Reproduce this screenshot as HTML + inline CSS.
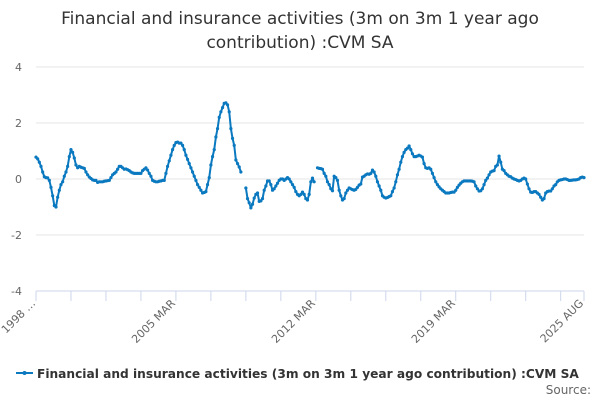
<!DOCTYPE html>
<html><head><meta charset="utf-8"><style>
html,body{margin:0;padding:0;background:#fff;}
body{width:600px;height:400px;overflow:hidden;font-family:"DejaVu Sans","Liberation Sans",sans-serif;}
</style></head><body>
<svg id="chart" width="600" height="400" xmlns="http://www.w3.org/2000/svg" font-family="DejaVu Sans, Liberation Sans, sans-serif">
<text x="300" y="24" text-anchor="middle" font-size="17" fill="#333">Financial and insurance activities (3m on 3m 1 year ago</text>
<text x="300" y="48" text-anchor="middle" font-size="17" fill="#333">contribution) :CVM SA</text>
<g id="grid"></g>
<g id="xaxis"></g>
<g id="series"></g>
<g>
<line x1="16" y1="373" x2="33" y2="373" stroke="#0b79bf" stroke-width="2"/>
<circle cx="24.5" cy="373" r="2" fill="#0b79bf"/>
<text x="37" y="378" font-size="12.2" font-weight="bold" fill="#333">Financial and insurance activities (3m on 3m 1 year ago contribution) :CVM SA</text>
</g>
<text x="591" y="394" text-anchor="end" font-size="12" fill="#666">Source:</text>
</svg>
<script>
const yTicks=[4,2,0,-2,-4];
const xLabelIdx=[0,84,168,252,329];
const xLabels=["1998 …","2005 MAR","2012 MAR","2019 MAR","2025 AUG"];
const values=[0.78,0.72,0.6,0.45,0.25,0.08,0.05,0.04,-0.05,-0.3,
-0.6,-0.95,-1.0,-0.65,-0.4,-0.2,-0.1,0.1,0.25,0.45,
0.8,1.05,0.95,0.75,0.5,0.4,0.45,0.42,0.4,0.38,
0.25,0.15,0.07,0.02,-0.03,-0.05,-0.05,-0.12,-0.1,-0.1,
-0.1,-0.08,-0.07,-0.06,-0.05,0.05,0.15,0.2,0.25,0.35,
0.45,0.45,0.4,0.35,0.36,0.33,0.3,0.25,0.22,0.2,
0.2,0.2,0.2,0.2,0.3,0.35,0.4,0.32,0.2,0.1,
-0.05,-0.08,-0.1,-0.1,-0.08,-0.07,-0.05,-0.05,0.2,0.45,
0.65,0.85,1.05,1.2,1.3,1.32,1.28,1.28,1.2,1.05,
0.85,0.7,0.55,0.4,0.25,0.1,-0.05,-0.2,-0.3,-0.4,
-0.5,-0.48,-0.45,-0.2,0.05,0.5,0.8,1.05,1.5,1.8,
2.2,2.4,2.55,2.7,2.72,2.65,2.4,1.8,1.45,1.2,
0.68,0.55,0.43,0.25,null,null,-0.32,-0.7,-0.85,-1.03,
-0.9,-0.68,-0.55,-0.5,-0.8,-0.78,-0.7,-0.4,-0.25,-0.07,
-0.07,-0.2,-0.4,-0.35,-0.25,-0.15,-0.05,0,0,-0.05,
0,0.05,0,-0.1,-0.2,-0.3,-0.45,-0.55,-0.6,-0.55,
-0.47,-0.55,-0.7,-0.75,-0.55,-0.1,0.03,-0.1,null,0.4,
0.38,0.37,0.35,0.2,0.1,-0.1,-0.2,-0.35,-0.42,0.1,
0.05,-0.05,-0.4,-0.6,-0.75,-0.7,-0.5,-0.4,-0.32,-0.35,
-0.38,-0.4,-0.37,-0.3,-0.22,-0.18,0.07,0.1,0.15,0.18,
0.17,0.2,0.32,0.25,0.1,-0.1,-0.25,-0.4,-0.6,-0.65,
-0.68,-0.66,-0.63,-0.6,-0.45,-0.32,-0.1,0.15,0.35,0.6,
0.8,0.95,1.05,1.1,1.18,1.05,0.9,0.8,0.8,0.82,
0.85,0.82,0.78,0.55,0.4,0.38,0.4,0.35,0.2,0.05,
-0.1,-0.2,-0.28,-0.35,-0.4,-0.45,-0.5,-0.5,-0.5,-0.48,
-0.47,-0.47,-0.4,-0.3,-0.22,-0.15,-0.1,-0.07,-0.07,-0.07,
-0.07,-0.07,-0.08,-0.1,-0.25,-0.35,-0.43,-0.42,-0.35,-0.2,
-0.05,0.03,0.15,0.25,0.28,0.3,0.45,0.5,0.82,0.6,
0.35,0.3,0.2,0.15,0.1,0.08,0.03,0,-0.02,-0.05,
-0.07,-0.05,0,0.03,0,-0.18,-0.35,-0.47,-0.48,-0.45,
-0.45,-0.5,-0.55,-0.65,-0.75,-0.7,-0.5,-0.45,-0.43,-0.43,
-0.35,-0.25,-0.2,-0.1,-0.05,-0.03,-0.02,0,0,-0.02,
-0.05,-0.05,-0.04,-0.03,-0.03,-0.02,0,0.05,0.07,0.05];

const NS="http://www.w3.org/2000/svg";
const x0=36,x1=584,yTop=67,yBot=291;
const n=values.length;
function xs(i){return x0+i*(x1-x0)/(n-1);}
function ys(v){return yBot-(v+4)*(yBot-yTop)/8;}
function mk(tag,attrs,parent){const e=document.createElementNS(NS,tag);for(const k in attrs)e.setAttribute(k,attrs[k]);parent.appendChild(e);return e;}
const grid=document.getElementById('grid');
yTicks.forEach(t=>{
  const l=mk('line',{x1:x0,x2:x1,y1:ys(t),y2:ys(t),stroke:t===-4?'#ccd6eb':'#e6e6e6','stroke-width':1},grid);
  
  
  const tx=mk('text',{x:22,y:ys(t)+4,'text-anchor':'end','font-size':11,fill:'#666'},grid);
  tx.textContent=String(t);
  
  
});
const xa=document.getElementById('xaxis');
const tickIdx=[];for(let i=0;i<n;i+=21)tickIdx.push(i);tickIdx.push(n-1);
tickIdx.forEach(i=>{
  const l=mk('line',{x1:xs(i),x2:xs(i),y1:yBot,y2:yBot+10,stroke:'#ccd6eb'},xa);
  
  
});
xLabelIdx.forEach((i,k)=>{
  const x=xs(i),y=yBot+13;
  const t=mk('text',{x:x,y:y,'text-anchor':'end','font-size':11,fill:'#666',transform:`rotate(-45 ${x} ${y})`},xa);
  t.textContent=xLabels[k];
  
  
});
const sg=document.getElementById('series');
let d='',pen=false;
values.forEach((v,i)=>{
  if(v===null){pen=false;return;}
  d+=(pen?'L':'M')+xs(i).toFixed(2)+' '+ys(v).toFixed(2);pen=true;
});
const p=mk('path',{d:d,fill:'none',stroke:'#0b79bf','stroke-width':2,'stroke-linejoin':'round'},sg);


values.forEach((v,i)=>{
  if(v===null)return;
  const c=mk('circle',{cx:xs(i),cy:ys(v),r:1.6,fill:'#0b79bf'},sg);
  
  
});
</script>
</body></html>
